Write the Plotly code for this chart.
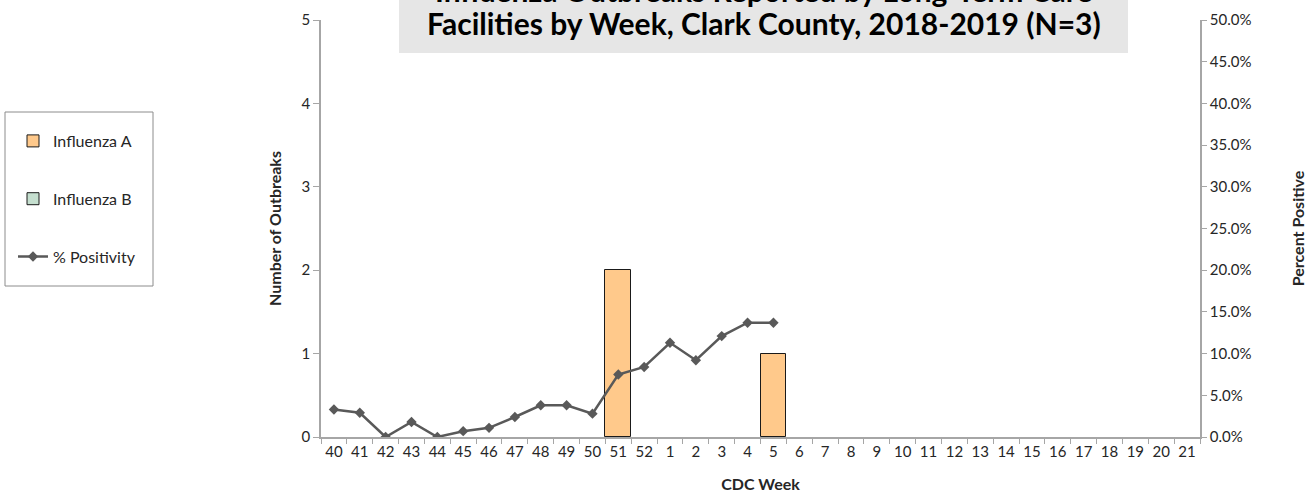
import plotly.graph_objects as go

weeks = ["40", "41", "42", "43", "44", "45", "46", "47", "48", "49", "50", "51", "52",
         "1", "2", "3", "4", "5", "6", "7", "8", "9", "10", "11", "12", "13", "14",
         "15", "16", "17", "18", "19", "20", "21"]
flu_a = [None, None, None, None, None, None, None, None, None, None, None, 2, None,
         None, None, None, None, 1, None, None, None, None, None, None, None, None, None,
         None, None, None, None, None, None, None]
flu_b = [None] * 34
pct_positive = [3.3, 2.9, 0.0, 1.8, 0.0, 0.7, 1.1, 2.4, 3.8, 3.8, 2.8, 7.5, 8.4,
                11.3, 9.2, 12.1, 13.7, 13.7, None, None, None, None, None, None, None, None, None,
                None, None, None, None, None, None, None]
title_lines = ["Influenza Outbreaks Reported by Long-Term Care",
               "Facilities by Week, Clark County, 2018-2019 (N=3)"]

FONT = "Lato"
AX = "#a6a6a6"
TXT = "#262626"

W, H = 1307, 493
L, R, T, B = 321, 107, 20, 56
PW, PH = W - L - R, H - T - B


def px(sx):
    return (sx - L) / PW


def py(sy):
    return (H - B - sy) / PH


fig = go.Figure()
fig.add_trace(go.Bar(x=weeks, y=flu_a, name="Influenza A", legendgroup="a",
                     marker=dict(color="#ffc98b", line=dict(color="#1a1a1a", width=1))))
fig.add_trace(go.Bar(x=weeks, y=flu_b, name="Influenza B", legendgroup="b",
                     marker=dict(color="#c5dfcf", line=dict(color="#1a1a1a", width=1))))
fig.add_trace(go.Scatter(x=weeks, y=[None if v is None else v / 100 for v in pct_positive],
                         name="% Positivity", legendgroup="c", yaxis="y2", mode="lines+markers",
                         line=dict(color="#595959", width=2.5),
                         marker=dict(symbol="diamond", size=8, color="#595959")))

fig.update_layout(
    width=W, height=H,
    margin=dict(l=L, r=R, t=T, b=B, autoexpand=False),
    paper_bgcolor="white", plot_bgcolor="white",
    barmode="overlay", bargap=0,
    font=dict(family=FONT, size=15, color=TXT),
    showlegend=True,
    legend=dict(x=px(13), y=py(124), xanchor="left", yanchor="top",
                borderwidth=0, bgcolor="rgba(0,0,0,0)",
                tracegroupgap=34, font=dict(size=16, family=FONT, color=TXT),
                traceorder="grouped"),
    xaxis=dict(type="category", range=[-0.5, len(weeks) - 0.5], autorange=False,
               showline=True, linecolor=AX, linewidth=1.5,
               ticks="outside", tickson="boundaries", tickcolor=AX, ticklen=5,
               tickangle=0, tickfont=dict(size=15, color=TXT),
               title=dict(text="<b>CDC Week</b>", font=dict(size=16), standoff=24),
               showgrid=False, zeroline=False, automargin=False),
    yaxis=dict(range=[0, 5], dtick=1, showline=True, linecolor=AX, linewidth=1.5,
               ticks="outside", tickcolor=AX, ticklen=6, automargin=False,
               tickfont=dict(size=15, color=TXT), showgrid=False, zeroline=False,
               title=dict(text="<b>Number of Outbreaks</b>", font=dict(size=16), standoff=16)),
    yaxis2=dict(range=[0, 0.5], dtick=0.05, tickformat=".1%", overlaying="y", side="right",
                showline=True, linecolor=AX, linewidth=1.5, ticks="outside", tickcolor=AX,
                ticklen=5, tickfont=dict(size=15, color=TXT), showgrid=False, zeroline=False,
                automargin=False,
                title=dict(text="<b>Percent Positive</b>", font=dict(size=16), standoff=42)),
)

# legend frame
fig.add_shape(type="rect", xref="paper", yref="paper",
              x0=px(5), x1=px(153), y0=py(286), y1=py(112),
              line=dict(color="#8c8c8c", width=1), fillcolor="rgba(0,0,0,0)", layer="below")

# title background box (extends past the top of the page, as in the reference)
fig.add_shape(type="rect", xref="paper", yref="paper",
              x0=px(399), x1=px(1128), y0=py(53), y1=py(-40),
              line=dict(width=0), fillcolor="#e6e6e6", layer="below")

for line, base in zip(title_lines, [2, 35]):
    fig.add_annotation(
        text="<b>" + line + "</b>",
        xref="paper", yref="paper", x=px(763.5), y=py(base + 7),
        xanchor="center", yanchor="bottom", showarrow=False, borderpad=0,
        font=dict(family=FONT, size=30, color="#000000"), align="center")

fig.write_html("out.html", config={"displayModeBar": False},
               post_script="document.body.style.margin='0px';")
